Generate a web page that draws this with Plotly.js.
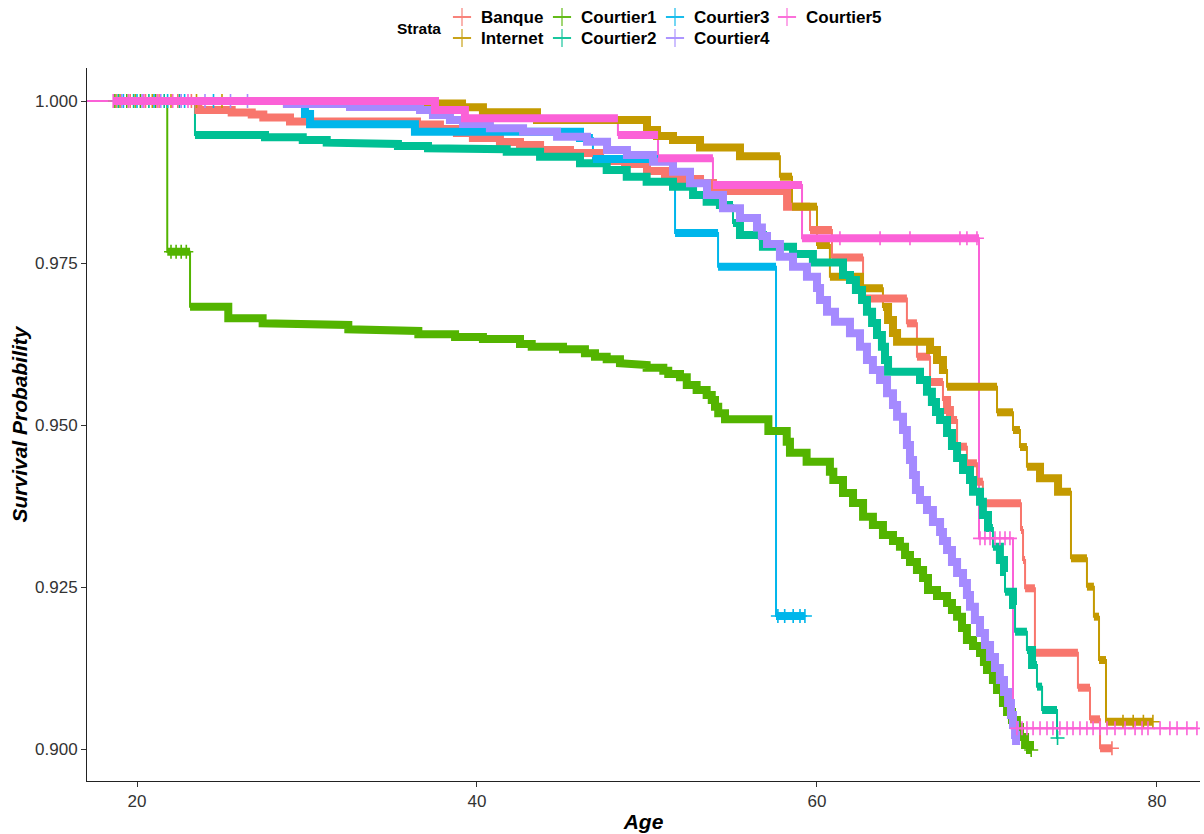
<!DOCTYPE html>
<html>
<head>
<meta charset="utf-8">
<script src="https://cdn.plot.ly/plotly-3.0.1.min.js"></script>
<style>html,body{margin:0;padding:0;background:#fff;}#chart{width:1204px;height:834px;}</style>
</head>
<body>
<div id="chart"></div>
<script>
// ---------------- data ----------------
const strata = ["Banque", "Internet", "Courtier1", "Courtier2", "Courtier3", "Courtier4", "Courtier5"];
const colors = ["#F8766D", "#C49A00", "#53B400", "#00C094", "#00B6EB", "#A58AFF", "#FB61D7"];

// event times and survival after each event
const banqueT = [23.61, 25.57, 26.75, 27.43, 29.00, 36.47, 37.82, 38.82, 39.76, 41.35, 42.53, 43.71, 45.47, 47.24, 48.71, 50.00, 51.06, 51.94, 53.12, 53.88, 58.24, 59.59, 60.88, 62.71, 65.29, 65.88, 66.65, 67.41, 67.65, 67.82, 68.24, 68.82, 69.41, 69.76, 72.00, 72.12, 72.24, 72.82, 75.35, 76.06, 76.65];
const banqueS = [0.99861, 0.99823, 0.99792, 0.99745, 0.99684, 0.99637, 0.99568, 0.99506, 0.99429, 0.99367, 0.99321, 0.99244, 0.99198, 0.99074, 0.99028, 0.98920, 0.98858, 0.98796, 0.98735, 0.98611, 0.98369, 0.98009, 0.97585, 0.96952, 0.96569, 0.96054, 0.95664, 0.95386, 0.95231, 0.95077, 0.94665, 0.94409, 0.94125, 0.93792, 0.93380, 0.92917, 0.92480, 0.91486, 0.90946, 0.90458, 0.90011];

const internetT = [28.82, 39.12, 40.35, 43.53, 50.00, 50.59, 51.53, 53.12, 55.47, 57.82, 58.53, 60.00, 60.76, 62.53, 63.88, 64.18, 64.47, 64.71, 66.65, 67.06, 67.41, 67.65, 70.59, 71.53, 71.94, 72.35, 73.12, 74.18, 74.94, 75.88, 76.29, 76.59, 77.00];
const internetS = [0.99961, 0.99903, 0.99826, 0.99707, 0.99552, 0.99460, 0.99398, 0.99282, 0.99147, 0.98832, 0.98369, 0.97778, 0.97289, 0.97110, 0.96821, 0.96620, 0.96420, 0.96285, 0.96157, 0.96003, 0.95849, 0.95591, 0.95196, 0.94923, 0.94660, 0.94357, 0.94178, 0.93971, 0.92943, 0.92505, 0.92042, 0.91373, 0.90421];

const courtier1T = [21.78, 23.12, 25.37, 27.39, 30.47, 32.43, 33.61, 36.55, 38.71, 40.35, 42.53, 43.22, 45.06, 46.35, 46.94, 47.63, 48.41, 49.39, 49.98, 50.96, 51.25, 51.94, 52.34, 52.92, 53.51, 53.81, 54.00, 54.19, 54.59, 57.14, 58.22, 58.41, 59.39, 60.76, 60.96, 61.53, 62.12, 62.71, 63.29, 63.88, 64.47, 64.88, 65.18, 65.47, 65.88, 66.24, 66.53, 67.06, 67.65, 67.94, 68.24, 68.53, 68.82, 69.18, 69.59, 69.82, 70.00, 70.35, 70.59, 70.94, 71.18, 71.47, 71.76, 71.94, 72.24, 72.53];
const courtier1S = [0.97674, 0.96826, 0.96647, 0.96569, 0.96543, 0.96477, 0.96451, 0.96400, 0.96358, 0.96327, 0.96250, 0.96208, 0.96168, 0.96107, 0.96054, 0.96014, 0.95952, 0.95926, 0.95884, 0.95838, 0.95787, 0.95736, 0.95617, 0.95540, 0.95463, 0.95386, 0.95282, 0.95181, 0.95088, 0.94907, 0.94742, 0.94573, 0.94434, 0.94279, 0.94151, 0.93951, 0.93796, 0.93585, 0.93457, 0.93302, 0.93210, 0.93122, 0.92994, 0.92886, 0.92762, 0.92639, 0.92454, 0.92361, 0.92254, 0.92145, 0.92042, 0.91867, 0.91682, 0.91590, 0.91482, 0.91343, 0.91219, 0.91065, 0.90910, 0.90710, 0.90571, 0.90448, 0.90340, 0.90185, 0.90062, 0.89985];

const courtier2T = [23.41, 27.53, 29.75, 31.16, 33.22, 35.35, 37.12, 39.18, 41.75, 43.71, 46.06, 47.63, 48.81, 49.98, 51.53, 52.71, 53.51, 54.29, 55.06, 55.47, 56.82, 58.59, 59.76, 61.53, 61.94, 62.29, 62.65, 62.94, 63.24, 63.53, 63.82, 64.00, 64.18, 66.06, 66.47, 66.76, 67.00, 67.24, 67.65, 67.94, 68.24, 68.59, 69.00, 69.18, 69.59, 69.76, 70.06, 70.35, 70.76, 71.00, 71.06, 71.53, 71.65, 72.35, 72.65, 72.94, 73.24, 74.12];
const courtier2S = [0.99475, 0.99440, 0.99398, 0.99357, 0.99336, 0.99306, 0.99270, 0.99255, 0.99218, 0.99140, 0.99039, 0.98935, 0.98832, 0.98755, 0.98677, 0.98549, 0.98446, 0.98395, 0.98117, 0.97932, 0.97752, 0.97639, 0.97508, 0.97315, 0.97238, 0.97083, 0.96929, 0.96748, 0.96574, 0.96389, 0.96208, 0.96003, 0.95822, 0.95694, 0.95514, 0.95355, 0.95201, 0.95077, 0.94877, 0.94676, 0.94491, 0.94306, 0.94151, 0.93971, 0.93817, 0.93611, 0.93410, 0.93122, 0.92917, 0.92731, 0.92428, 0.92222, 0.91810, 0.91528, 0.91296, 0.90962, 0.90602, 0.90170];

const courtier3T = [29.88, 30.18, 36.35, 46.06, 46.82, 51.65, 54.18, 57.59];
const courtier3S = [0.99799, 0.99640, 0.99526, 0.99429, 0.99105, 0.97963, 0.97443, 0.92052];

const courtier4T = [28.82, 32.53, 36.65, 37.41, 38.41, 39.18, 40.76, 42.71, 44.71, 46.47, 47.65, 48.82, 50.35, 51.53, 52.53, 53.53, 54.47, 55.47, 56.47, 56.76, 57.06, 57.82, 58.59, 59.41, 60.00, 60.18, 60.59, 61.06, 61.94, 62.53, 62.94, 63.29, 63.71, 64.12, 64.47, 64.71, 65.06, 65.29, 65.47, 65.65, 65.82, 66.06, 66.47, 66.82, 67.24, 67.41, 67.65, 67.94, 68.24, 68.59, 68.82, 69.00, 69.29, 69.59, 69.88, 70.18, 70.47, 70.76, 71.00, 71.24, 71.41, 71.53, 71.65, 71.71];
const courtier4S = [0.99954, 0.99907, 0.99861, 0.99784, 0.99707, 0.99645, 0.99579, 0.99526, 0.99449, 0.99372, 0.99244, 0.99167, 0.99063, 0.98909, 0.98730, 0.98549, 0.98344, 0.98194, 0.98048, 0.97917, 0.97793, 0.97597, 0.97443, 0.97289, 0.97114, 0.96929, 0.96748, 0.96594, 0.96415, 0.96208, 0.96003, 0.95849, 0.95694, 0.95489, 0.95309, 0.95128, 0.94923, 0.94691, 0.94460, 0.94228, 0.93997, 0.93843, 0.93688, 0.93503, 0.93349, 0.93210, 0.93071, 0.92886, 0.92716, 0.92562, 0.92377, 0.92196, 0.91991, 0.91790, 0.91605, 0.91420, 0.91250, 0.91065, 0.90880, 0.90710, 0.90525, 0.90371, 0.90216, 0.90062];

const courtier5T = [37.53, 39.29, 48.29, 50.65, 53.88, 59.12, 69.53, 71.53];
const courtier5S = [0.99861, 0.99733, 0.99475, 0.99116, 0.98704, 0.97881, 0.93251, 0.90319];

// end of follow-up per stratum
const endTimes = [77.35, 79.76, 72.60, 74.15, 59.29, 71.71, 82.35];
// span where censoring is so dense that the "+" marks merge into a band
const denseFrom = [18.6, 18.6, 18.6, 18.6, 18.6, 18.6, 18.6];
const denseTo   = [77.35, 79.76, 72.60, 74.15, 59.29, 71.71, 69.53];

// individually visible censoring marks
const banqueC = [18.8, 19.6, 20.5, 21.3, 22.4, 23.2, 77.35];
const internetC = [19.0, 19.9, 20.9, 22.0, 23.5, 25.0, 78.0, 78.6, 79.2, 79.76];
const courtier1C = [18.7, 19.4, 20.2, 21.1, 22.0, 22.3, 22.6, 22.9, 72.6];
const courtier2C = [18.9, 19.8, 20.7, 21.6, 22.5, 74.15];
const courtier3C = [19.2, 20.0, 21.0, 21.8, 22.8, 24.5, 57.7, 58.1, 58.6, 59.0, 59.29];
const courtier4C = [19.1, 20.3, 21.4, 22.6, 24.0, 25.5, 26.5];
const courtier5C = [18.6, 19.5, 20.4, 21.2, 22.1, 23.0, 61.35, 63.71, 65.47, 68.41, 68.82, 69.41, 69.59, 69.88, 70.18, 70.47, 70.76, 71.06, 71.35, 71.76, 72.06, 72.35, 72.71, 73.12, 73.53, 73.88, 74.29, 74.71, 75.06, 75.47, 75.88, 76.24, 76.65, 77.06, 77.53, 78.12, 78.71, 79.12, 79.47, 80.18, 80.76, 81.18, 81.76, 82.35];

const xTicks = [20, 40, 60, 80];
const yTicks = [0.900, 0.925, 0.950, 0.975, 1.000];

// legend layout (column-major, 2 rows), positions in pixels of the legend strip
const legendCol = [0, 0, 1, 1, 2, 2, 3];
const legendRow = [0, 1, 0, 1, 0, 1, 0];
const legendColX = [462, 562, 675, 787];
const legendRowY = [17, 38];

// ---------------- build traces ----------------
const times = [banqueT, internetT, courtier1T, courtier2T, courtier3T, courtier4T, courtier5T];
const survs = [banqueS, internetS, courtier1S, courtier2S, courtier3S, courtier4S, courtier5S];
const cens  = [banqueC, internetC, courtier1C, courtier2C, courtier3C, courtier4C, courtier5C];

function survAt(T, S, t) {
  let s = 1;
  for (let i = 0; i < T.length; i++) { if (T[i] <= t) s = S[i]; else break; }
  return s;
}

const FONT = "Liberation Sans, Arial, sans-serif";
const lineTraces = [], bandTraces = [], legendTraces = [], annotations = [];
const BIG_DROP = 0.0025;

strata.forEach((name, g) => {
  const T = times[g], S = survs[g], c = colors[g];
  // thin step curve
  lineTraces.push({
    x: [0].concat(T, [endTimes[g]]),
    y: [1].concat(S, [S[S.length - 1]]),
    type: "scatter", mode: "lines", xaxis: "x", yaxis: "y",
    line: {color: c, width: 2, shape: "hv"},
    showlegend: false, hoverinfo: "skip"
  });
  // dense censoring band (merged "+" marks)
  const bx = [denseFrom[g]], by = [survAt(T, S, denseFrom[g])];
  let prev = by[0];
  for (let i = 0; i < T.length; i++) {
    if (T[i] <= denseFrom[g]) continue;
    if (T[i] > denseTo[g]) break;
    if (prev - S[i] > BIG_DROP) { bx.push(T[i], null, T[i]); by.push(prev, null, S[i]); }
    else { bx.push(T[i], T[i]); by.push(prev, S[i]); }
    prev = S[i];
  }
  bx.push(denseTo[g]); by.push(prev);
  bandTraces.push({
    x: bx, y: by, type: "scatter", mode: "lines", xaxis: "x", yaxis: "y",
    line: {color: c, width: 8}, connectgaps: false,
    showlegend: false, hoverinfo: "skip"
  });
  // visible censoring marks
  bandTraces.push({
    x: cens[g], y: cens[g].map(t => survAt(T, S, t)),
    type: "scatter", mode: "markers", xaxis: "x", yaxis: "y",
    marker: {symbol: "cross-thin", size: 10, color: c, line: {color: c, width: 1.6}},
    showlegend: false, hoverinfo: "skip"
  });
  // legend key (line + cross) in the legend strip
  const cx = legendColX[legendCol[g]], cy = legendRowY[legendRow[g]];
  legendTraces.push({
    x: [cx - 9, cx + 9], y: [cy, cy], type: "scatter", mode: "lines",
    xaxis: "x2", yaxis: "y2", line: {color: c, width: 1.5},
    showlegend: false, hoverinfo: "skip", cliponaxis: false
  });
  legendTraces.push({
    x: [cx], y: [cy], type: "scatter", mode: "markers",
    xaxis: "x2", yaxis: "y2",
    marker: {symbol: "cross-thin", size: 13, color: c, opacity: 0.6, line: {color: c, width: 1.8}},
    showlegend: false, hoverinfo: "skip", cliponaxis: false
  });
  annotations.push({
    text: name, xref: "x2", yref: "y2", x: cx + 17, y: cy,
    xanchor: "left", yanchor: "middle", showarrow: false,
    font: {family: FONT, size: 17, weight: "bold", color: "#000"}
  });
});

annotations.push({
  text: "Strata", xref: "x2", yref: "y2", x: 443, y: 28,
  xanchor: "right", yanchor: "middle", showarrow: false,
  font: {family: FONT, size: 15.5, weight: "bold", color: "#000"}
});

const H = 834, T_M = 4, B_M = 53, PH = H - T_M - B_M;
const layout = {
  width: 1204, height: H,
  margin: {l: 87, r: 4, t: T_M, b: B_M},
  paper_bgcolor: "#fff", plot_bgcolor: "#fff",
  showlegend: false,
  font: {family: FONT, color: "#000"},
  xaxis: {
    range: [17.059, 82.53], tickvals: xTicks, ticktext: xTicks.map(String),
    ticks: "outside", ticklen: 5, tickwidth: 1, tickcolor: "#333",
    showline: true, linecolor: "#222", linewidth: 1, showgrid: false, zeroline: false,
    tickfont: {family: FONT, size: 17, color: "#333"},
    anchor: "y",
    title: {text: "Age", standoff: 3, font: {family: FONT, size: 21, weight: "bold", style: "italic", color: "#000"}}
  },
  yaxis: {
    domain: [0, (PH - (68 - T_M)) / PH],
    range: [0.895062, 1.005093], tickvals: yTicks, ticktext: yTicks.map(v => v.toFixed(3)),
    ticks: "outside", ticklen: 5, tickwidth: 1, tickcolor: "#333",
    showline: true, linecolor: "#222", linewidth: 1, showgrid: false, zeroline: false,
    tickfont: {family: FONT, size: 17, color: "#333"},
    anchor: "x",
    title: {text: "Survival Probability", standoff: 1, font: {family: FONT, size: 21, weight: "bold", style: "italic", color: "#000"}}
  },
  xaxis2: {domain: [0, 1], range: [87, 1200], visible: false, anchor: "y2", fixedrange: true},
  yaxis2: {domain: [(PH - 56) / PH, 1], range: [4 + 56, 4], visible: false, anchor: "x2", fixedrange: true},
  annotations: annotations
};

Plotly.newPlot("chart", lineTraces.concat(bandTraces, legendTraces), layout, {displayModeBar: false, staticPlot: true});
</script>
</body>
</html>
